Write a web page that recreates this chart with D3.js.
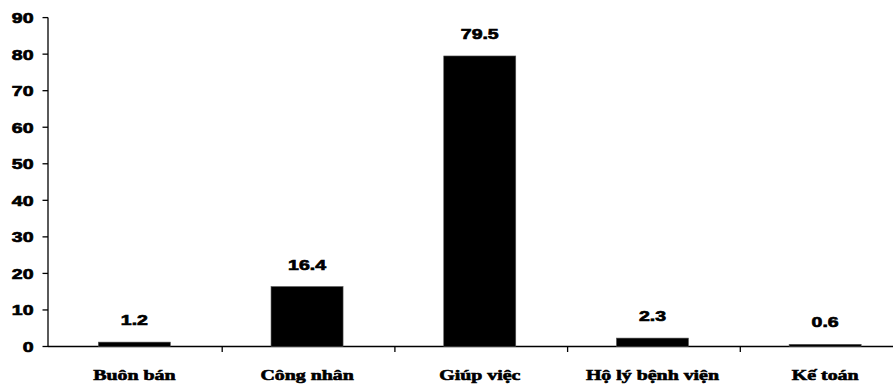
<!DOCTYPE html>
<html>
<head>
<meta charset="utf-8">
<script src="https://cdn.jsdelivr.net/npm/d3@7"></script>
<style>
  html, body { margin: 0; padding: 0; background: #fff; }
  svg { display: block; }
</style>
</head>
<body>
<svg id="chart" width="893" height="384"></svg>
<script>
// Occupation categories and their shares (%)
const categories = ["Buôn bán", "Công nhân", "Giúp việc", "Hộ lý bệnh viện", "Kế toán"];
const values = [1.2, 16.4, 79.5, 2.3, 0.6];
const valueLabels = ["1.2", "16.4", "79.5", "2.3", "0.6"];
const yTicks = [0, 10, 20, 30, 40, 50, 60, 70, 80, 90];

const svg = d3.select("#chart");

const x = d3.scaleBand()
  .domain(categories)
  .range([48, 911.5])
  .paddingInner(0.583)
  .paddingOuter(0.2915);

const y = d3.scaleLinear()
  .domain([0, 90])
  .range([346.5, 17.6]);

// helper: horizontally stretched, heavy text anchored at (px, py)
function wideText(g, px, py, str, opts) {
  return g.append("g")
    .attr("transform", `translate(${px},${py}) scale(${opts.stretch},1)`)
    .append("text")
    .attr("x", 0).attr("y", 0)
    .attr("text-anchor", opts.anchor || "middle")
    .attr("font-family", opts.family)
    .attr("font-size", opts.size)
    .attr("font-weight", "bold")
    .attr("fill", "#000")
    .attr("stroke", "#000")
    .attr("stroke-width", opts.weight)
    .text(str);
}

const sansOpts = { family: "'Liberation Sans', Arial, sans-serif", size: 15, stretch: 1.3, weight: 0.7 };
const serifOpts = { family: "'Liberation Serif', 'Times New Roman', serif", size: 14, stretch: 1.42, weight: 0.6 };

// Y axis line and ticks
const axisX = 48;
svg.append("line")
  .attr("x1", axisX).attr("x2", axisX)
  .attr("y1", y(90)).attr("y2", y(0))
  .attr("stroke", "#000").attr("stroke-width", 1.3);

const yg = svg.append("g");
yTicks.forEach(t => {
  yg.append("line")
    .attr("x1", axisX - 5.5).attr("x2", axisX)
    .attr("y1", y(t)).attr("y2", y(t))
    .attr("stroke", "#000").attr("stroke-width", 1.3);
  wideText(yg, 33.5, y(t) + 5.5, String(t), Object.assign({ anchor: "end" }, sansOpts));
});

// X axis line with category boundary ticks
svg.append("line")
  .attr("x1", axisX).attr("x2", 893)
  .attr("y1", y(0)).attr("y2", y(0))
  .attr("stroke", "#000").attr("stroke-width", 1.3);

const step = x.step();
const xStart = x.range()[0];
for (let i = 1; i < categories.length; i++) {
  const bx = xStart + i * step + 1.5;
  svg.append("line")
    .attr("x1", bx).attr("x2", bx)
    .attr("y1", y(0)).attr("y2", y(0) + 5.5)
    .attr("stroke", "#000").attr("stroke-width", 1.3);
}

// Bars
svg.append("g").selectAll("rect")
  .data(categories)
  .join("rect")
  .attr("x", d => x(d))
  .attr("width", x.bandwidth())
  .attr("y", (d, i) => y(values[i]))
  .attr("height", (d, i) => y(0) - y(values[i]))
  .attr("fill", "#000")
  .attr("stroke", "#555")
  .attr("stroke-width", 0.6);

// Value labels
const lg = svg.append("g");
categories.forEach((c, i) => {
  wideText(lg, x(c) + x.bandwidth() / 2, y(values[i]) - 17, valueLabels[i], sansOpts);
});

// Category labels
const cg = svg.append("g");
categories.forEach(c => {
  wideText(cg, x(c) + x.bandwidth() / 2, 380, c, serifOpts);
});
</script>
</body>
</html>
